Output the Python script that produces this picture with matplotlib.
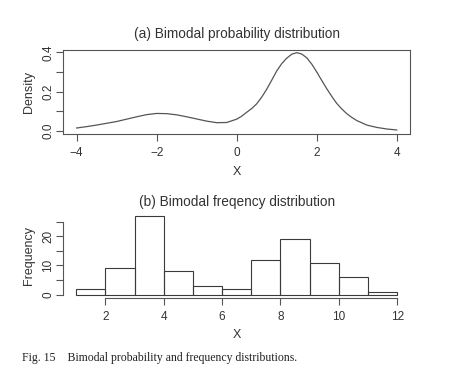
import matplotlib
matplotlib.use("Agg")
import matplotlib.pyplot as plt

# (a) density curve
dens_x = [-4.0, -3.75, -3.5, -3.25, -3.0, -2.75, -2.5, -2.25, -2.0,
          -1.75, -1.5, -1.25, -1.0, -0.75, -0.5, -0.25,
          0.0, 0.125, 0.25, 0.375, 0.5, 0.625, 0.75, 0.875,
          1.0, 1.125, 1.25, 1.375, 1.5, 1.625, 1.75, 1.875,
          2.0, 2.125, 2.25, 2.375, 2.5, 2.625, 2.75, 2.875,
          3.0, 3.25, 3.5, 3.75, 4.0]
dens_y = [0.015, 0.022, 0.030, 0.039, 0.048, 0.060, 0.072, 0.083, 0.089,
          0.088, 0.082, 0.072, 0.061, 0.050, 0.042, 0.043,
          0.060, 0.075, 0.095, 0.114, 0.138, 0.172, 0.212, 0.258,
          0.305, 0.342, 0.370, 0.390, 0.398, 0.391, 0.372, 0.340,
          0.300, 0.257, 0.215, 0.176, 0.140, 0.112, 0.088, 0.069,
          0.053, 0.030, 0.018, 0.010, 0.005]

# (b) histogram, unit bins from 1 to 12
bin_edges = list(range(1, 13))
counts = [2, 9, 27, 8, 3, 2, 12, 19, 11, 6, 1]

top_xticks = [-4, -2, 0, 2, 4]
top_yticks = [0.0, 0.1, 0.2, 0.3, 0.4]
bot_xticks = [2, 4, 6, 8, 10, 12]
bot_yticks = [0, 5, 10, 15, 20, 25]

plt.rcParams['font.family'] = ['Liberation Sans', 'DejaVu Sans']
ink = '#333333'
frame = '#555555'

fig = plt.figure(figsize=(4.53, 3.71), dpi=100)

ax1 = fig.add_axes([0.140, 0.638, 0.765, 0.228])
ax1.plot(dens_x, dens_y, color='#555555', lw=0.9)
ax1.set_xlim(-4.33, 4.33)
ax1.set_ylim(-0.017, 0.413)
ax1.set_xticks(top_xticks)
ax1.set_xticklabels(['\u22124', '\u22122', '0', '2', '4'])
ax1.set_yticks(top_yticks)
ax1.set_yticklabels(['0.0', '', '0.2', '', '0.4'], rotation=90, va='center')
for s in ax1.spines.values():
    s.set_color(frame)
    s.set_linewidth(0.8)
ax1.set_title('(a) Bimodal probability distribution', fontsize=9.8, color=ink, pad=8.5)
ax1.set_xlabel('X', fontsize=9, color=ink, labelpad=5)
ax1.set_ylabel('Density', fontsize=9, color=ink, labelpad=5)

ax2 = fig.add_axes([0.140, 0.197, 0.765, 0.230])
ax2.bar(bin_edges[:-1], counts, width=1, align='edge', fill=False,
        edgecolor='#3a3a3a', linewidth=0.8)
ax2.set_xlim(0.56, 12.44)
ax2.set_ylim(-1.08, 28.08)
ax2.set_xticks(bot_xticks)
ax2.set_yticks(bot_yticks)
ax2.set_yticklabels(['0', '', '10', '', '20', ''], rotation=90, va='center')
ax2.spines['top'].set_visible(False)
ax2.spines['right'].set_visible(False)
ax2.spines['left'].set_bounds(0, 25)
ax2.spines['bottom'].set_bounds(2, 12)
for s in ax2.spines.values():
    s.set_color(frame)
    s.set_linewidth(0.8)
ax2.set_title('(b) Bimodal freqency distribution', fontsize=9.8, color=ink, pad=5)
ax2.set_xlabel('X', fontsize=9, color=ink, labelpad=4)
ax2.set_ylabel('Frequency', fontsize=9, color=ink, labelpad=5)

for ax in (ax1, ax2):
    ax.tick_params(direction='out', length=5, width=0.8, color=frame,
                   labelsize=8.5, labelcolor=ink, pad=1.5)
    ax.tick_params(axis='x', pad=4.5)

fig.text(0.049, 0.026, 'Fig. 15    Bimodal probability and frequency distributions.',
         fontsize=8.5, family='Liberation Serif', color='#222222')

fig.savefig('out.png', dpi=100)
